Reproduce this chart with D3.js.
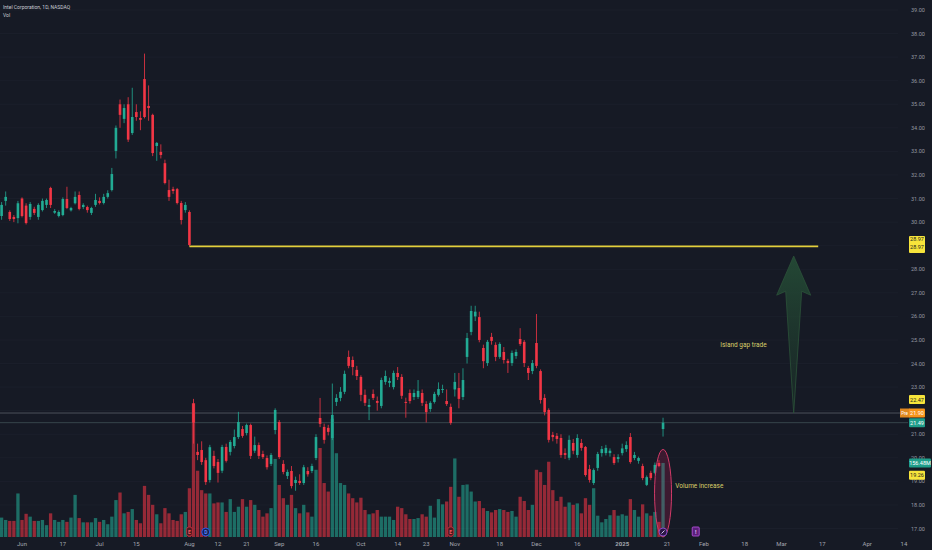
<!DOCTYPE html>
<html>
<head>
<meta charset="utf-8">
<script src="https://cdn.jsdelivr.net/npm/d3@7"></script>
<style>
  body { margin: 0; background: #161a25; }
  svg { display: block; font-family: Roboto, "Noto Sans", sans-serif; }
</style>
</head>
<body>
<svg id="chart"></svg>
<script>
// trading calendar
let firstDay = "2024-05-24", lastDay = "2025-04-30";
let holidays = ["2024-05-27", "2024-06-19", "2024-07-04", "2024-09-02", "2024-11-28",
  "2024-12-25", "2025-01-01", "2025-01-09", "2025-01-20", "2025-02-17", "2025-04-18"];

// daily candles [open, high, low, close], first bar = 2024-05-24
let ohlc = [
  [30.26,30.85,30.10,30.73],[30.90,31.30,30.70,31.07],[30.43,30.50,30.05,30.13],[30.22,30.30,30.00,30.13],
  [30.17,30.90,29.95,30.80],[31.00,31.05,30.20,30.26],[30.70,30.80,29.90,29.96],[30.22,30.85,30.10,30.77],
  [30.56,30.65,30.30,30.39],[30.22,30.80,30.10,30.73],[30.51,31.00,30.45,30.90],[30.73,31.00,30.60,30.94],
  [31.45,31.50,30.60,30.73],[30.40,30.55,30.35,30.47],[30.26,30.50,30.20,30.43],[30.30,31.05,30.25,30.98],
  [30.98,31.50,30.55,30.60],[30.50,30.65,30.45,30.60],[30.80,31.30,30.75,31.07],[31.15,31.30,30.50,30.56],
  [30.64,30.80,30.55,30.73],[30.64,30.70,30.40,30.51],[30.39,30.65,30.30,30.60],[30.73,31.20,30.65,30.94],
  [30.90,31.05,30.75,30.81],[30.81,31.20,30.75,31.07],[31.07,31.35,31.00,31.23],[31.36,32.30,31.30,32.04],
  [33.02,34.10,32.70,34.00],[35.00,35.20,34.00,34.55],[34.38,35.00,34.20,34.84],[35.00,35.30,33.40,33.50],
  [33.78,35.70,33.70,34.46],[34.67,35.00,34.30,34.46],[34.42,34.70,33.90,34.34],[36.07,37.15,34.40,34.46],
  [34.93,35.80,34.30,34.84],[34.55,34.60,32.80,32.93],[33.23,33.40,32.60,33.36],[32.98,33.30,32.70,32.85],
  [32.50,32.65,31.60,31.66],[31.36,31.80,30.90,31.07],[31.40,31.50,31.20,31.32],[31.40,31.45,30.75,30.81],
  [30.81,30.90,29.90,30.09],[30.51,30.85,30.40,30.73],[30.43,30.50,28.97,29.03],
  [22.30,22.50,20.60,21.48],[20.25,20.60,19.90,20.12],[20.33,20.70,19.70,19.82],[19.90,20.00,18.85,18.97],
  [19.06,20.55,18.95,20.45],[20.08,20.30,19.55,19.65],[19.82,19.95,18.95,19.36],[19.45,20.55,19.35,20.46],
  [20.46,20.60,19.80,19.87],[20.25,20.75,20.10,20.67],[20.50,21.20,20.40,20.88],[20.88,21.95,20.80,21.52],
  [21.22,21.35,20.85,20.93],[21.05,21.45,20.95,21.39],[21.39,21.45,19.95,20.08],[20.30,20.90,20.20,20.54],
  [20.54,20.65,19.95,20.08],[20.16,20.30,19.95,20.03],[19.99,20.10,19.50,19.60],[19.74,20.20,19.65,20.12],
  [21.18,22.10,21.00,22.03],[21.52,21.60,19.95,20.03],[19.74,19.90,19.30,19.40],[19.23,19.50,19.10,19.40],
  [19.44,19.65,18.70,18.80],[18.93,19.20,18.60,19.06],[19.02,19.30,18.85,18.93],[18.93,19.70,18.85,19.60],
  [19.44,19.60,19.20,19.30],[19.44,19.75,19.35,19.65],[19.99,21.00,19.90,20.88],[21.69,22.54,21.30,21.44],
  [21.31,21.45,20.60,20.76],[21.27,21.40,20.95,21.10],[20.84,23.15,20.75,21.82],[22.37,22.70,22.20,22.54],
  [22.54,23.00,22.40,22.80],[22.80,23.70,22.70,23.56],[24.28,24.55,23.80,23.90],[24.15,24.30,23.50,23.85],
  [23.73,23.90,23.30,23.47],[23.43,23.50,22.40,22.67],[22.67,22.90,22.20,22.33],[22.16,22.50,21.60,22.24],
  [22.71,22.90,22.45,22.54],[22.41,22.60,22.00,22.33],[22.20,23.40,22.10,23.30],[23.22,23.70,23.10,23.47],
  [23.18,23.40,23.00,23.26],[23.00,23.70,22.90,23.60],[23.60,23.85,23.30,23.43],[23.43,23.55,22.50,22.63],
  [22.37,22.55,21.70,22.33],[22.75,22.90,22.30,22.41],[22.58,22.90,22.45,22.75],[22.58,23.30,22.50,22.84],
  [22.75,22.90,22.20,22.33],[22.28,22.40,21.50,21.94],[22.07,22.40,21.95,22.33],[22.37,22.80,22.30,22.71],
  [22.67,23.20,22.60,22.92],[22.88,23.10,22.75,22.92],[22.41,22.90,22.20,22.28],[22.16,22.30,21.40,21.48],
  [22.90,23.60,22.60,23.22],[22.96,23.60,22.10,22.50],[22.58,23.80,22.45,23.30],[24.28,25.30,24.00,25.08],
  [25.34,26.45,25.20,26.23],[26.00,26.45,25.80,26.20],[25.97,26.20,24.90,25.00],[24.66,24.80,23.80,24.10],
  [24.02,25.00,23.90,24.92],[25.13,25.30,24.80,24.96],[24.79,24.90,24.10,24.28],[24.28,24.90,24.20,24.83],
  [24.49,24.70,24.00,24.15],[24.11,24.20,23.60,24.02],[24.02,24.55,23.90,24.45],[24.32,24.60,24.20,24.49],
  [25.04,25.50,24.75,24.83],[24.92,25.00,23.85,24.02],[23.81,23.90,23.30,23.60],[23.68,24.15,23.55,24.02],
  [24.87,26.10,23.80,23.90],[23.68,23.75,22.30,22.45],[22.54,22.70,21.80,21.94],[22.03,22.10,20.65,20.76],
  [20.97,21.10,20.70,20.88],[20.93,21.05,20.60,20.80],[20.84,21.00,20.00,20.12],[20.20,20.40,19.95,20.12],
  [20.00,20.95,19.90,20.76],[20.63,20.80,20.15,20.30],[20.12,21.00,20.00,20.84],[20.63,20.80,20.30,20.42],
  [20.46,20.50,19.20,19.27],[19.52,19.70,18.95,19.06],[18.93,19.55,18.85,19.48],[19.57,20.25,19.45,20.16],
  [20.20,20.50,20.05,20.37],[20.20,20.55,20.10,20.42],[20.20,20.40,20.05,20.30],[20.03,20.15,19.70,19.78],
  [19.95,20.15,19.80,20.03],[20.20,20.60,20.10,20.40],[20.37,20.70,20.25,20.54],[20.88,21.05,19.75,19.82],
  [19.99,20.25,19.90,20.12],[19.87,20.05,19.75,19.99],[19.65,19.75,19.05,19.14],[18.85,19.25,18.80,19.18],
  [19.36,19.45,19.05,19.14],[19.36,19.80,19.30,19.70],[19.78,19.90,19.60,19.65],[21.22,21.70,20.90,21.49]
];

// daily volume, millions
let volumes = [
  41,36,34,34,92,36,49,43,34,34,36,25,50,36,32,36,32,41,89,40,
  31,31,31,40,32,36,27,43,78,94,50,53,59,36,29,108,89,68,48,29,
  61,50,36,34,48,53,103,283,140,99,92,92,71,73,73,53,80,53,64,80,
  64,78,68,57,43,50,61,165,110,82,68,89,61,50,68,52,43,142,188,114,
  96,250,177,114,110,92,82,73,83,57,48,50,57,43,43,43,36,64,61,48,
  38,38,40,48,43,66,41,80,69,75,106,166,85,110,111,96,75,76,61,55,
  52,57,59,57,53,55,43,85,76,57,68,142,137,110,159,99,76,85,64,73,
  68,71,50,82,68,103,45,31,38,46,57,45,48,45,80,57,43,69,50,45,
  53,32,156.48
];

let priceTicks = [17,18,19,20,21,22,23,24,25,26,27,28,29,30,31,32,33,34,35,36,37,38,39];
let tickDates = ["2024-06-03","2024-06-17","2024-07-01","2024-07-15","2024-08-01","2024-08-12",
  "2024-08-21","2024-09-03","2024-09-16","2024-10-01","2024-10-14","2024-10-23","2024-11-01",
  "2024-11-18","2024-12-02","2024-12-16","2025-01-02","2025-01-21","2025-02-03","2025-02-18",
  "2025-03-03","2025-03-17","2025-04-01","2025-04-14"];
let tickLabels = ["Jun","17","Jul","15","Aug","12","21","Sep","16","Oct","14","23","Nov",
  "18","Dec","16","2025","21","Feb","18","Mar","17","Apr","14"];

// events under the bars
let eventDates = ["2024-08-01","2024-08-07","2024-10-31","2025-01-17","2025-01-30"];
let eventKinds = ["earnings","dividend","earnings","news","upcoming"];

// right scale tags
let tagValues = [22.47, 21.90, 21.49, 19.26];
let tagKinds = ["level","pre","last","level"];
let gapLevel = 28.97;

// drawings
let gapLine = {from: "2024-08-01", to: "2025-03-14", price: 28.97};
let arrowLine = {date: "2025-03-06", from: 21.90, to: 28.56, head: 26.90};
let notes = [
  {text: "Island gap trade", date: "2025-02-07", price: 24.70},
  {text: "Volume increase", date: "2025-01-23", price: 18.72}
];
let circled = {date: "2025-01-17", volTop: 185};

// ---------------------------------------------------------------
let width = 932, height = 550;
let svg = d3.select("#chart").attr("width", width).attr("height", height);
svg.append("rect").attr("width", width).attr("height", height).attr("fill", "#161a25");

let fmt = d3.utcFormat("%Y-%m-%d"), parse = d3.utcParse("%Y-%m-%d");
let tradingDays = d3.utcDay.range(parse(firstDay), d3.utcDay.offset(parse(lastDay), 1))
  .filter(function(d){ return d.getUTCDay() % 6 !== 0 && holidays.indexOf(fmt(d)) < 0; })
  .map(fmt);
function idx(s){ return tradingDays.indexOf(s); }

let x = d3.scaleLinear().domain([0, 200]).range([1.6, 818.2]),
    y = d3.scaleLinear().domain([17, 39]).range([528.5, 10]),
    vy = d3.scaleLinear().domain([0, 300]).range([537, 395]);

let up = "#22ab94", down = "#f23645";
let plotRight = 898;

// grid
svg.append("g").selectAll("line").data(priceTicks).join("line")
  .attr("x1", 0).attr("x2", plotRight)
  .attr("y1", function(d){ return y(d); }).attr("y2", function(d){ return y(d); })
  .attr("stroke", "#1b1f2b").attr("stroke-width", 1);

// volume
let vw = 3.3;
svg.append("g").selectAll("rect").data(volumes).join("rect")
  .attr("x", function(d, i){ return x(i) - vw / 2; })
  .attr("y", function(d){ return vy(d); })
  .attr("width", vw)
  .attr("height", function(d){ return vy(0) - vy(d); })
  .attr("fill", function(d, i){ return ohlc[i][3] >= ohlc[i][0] ? up : down; })
  .attr("fill-opacity", 0.58);

// last / pre-market price lines
svg.append("line").attr("x1", 0).attr("x2", 900)
  .attr("y1", y(21.90)).attr("y2", y(21.90))
  .attr("stroke", "#5a5e69").attr("stroke-width", 1).attr("stroke-opacity", 0.8);
svg.append("line").attr("x1", 0).attr("x2", 908)
  .attr("y1", y(21.49)).attr("y2", y(21.49))
  .attr("stroke", "#3b4a50").attr("stroke-width", 1).attr("stroke-opacity", 0.9);

// candles
let bw = 2.6;
let candle = svg.append("g").selectAll("g").data(ohlc).join("g")
  .attr("fill", function(d){ return d[3] >= d[0] ? up : down; })
  .attr("stroke", function(d){ return d[3] >= d[0] ? up : down; });
candle.append("line")
  .attr("x1", function(d, i){ return x(i); }).attr("x2", function(d, i){ return x(i); })
  .attr("y1", function(d){ return y(d[1]); }).attr("y2", function(d){ return y(d[2]); })
  .attr("stroke-width", 0.8);
candle.append("rect")
  .attr("stroke", "none")
  .attr("x", function(d, i){ return x(i) - bw / 2; })
  .attr("y", function(d){ return y(Math.max(d[0], d[3])); })
  .attr("width", bw)
  .attr("height", function(d){ return Math.max(1, Math.abs(y(d[0]) - y(d[3]))); });

// island gap level
svg.append("line")
  .attr("x1", x(idx(gapLine.from))).attr("x2", x(idx(gapLine.to)))
  .attr("y1", y(gapLine.price)).attr("y2", y(gapLine.price))
  .attr("stroke", "#e3cf3c").attr("stroke-width", 1.6);

// arrow
let defs = svg.append("defs");
let grad = defs.append("linearGradient").attr("id", "arrowFill")
  .attr("x1", 0).attr("y1", 0).attr("x2", 0).attr("y2", 1);
grad.append("stop").attr("offset", "0%").attr("stop-color", "#28573a").attr("stop-opacity", 0.75);
grad.append("stop").attr("offset", "100%").attr("stop-color", "#1c3328").attr("stop-opacity", 0.45);
let ax = x(idx(arrowLine.date)), headHalf = 17, shaftHalf = 8;
let arrowPts = [
  [ax, y(arrowLine.to)],
  [ax + headHalf, y(arrowLine.head)],
  [ax + shaftHalf, y(arrowLine.head) - 4],
  [ax, y(arrowLine.from)],
  [ax - shaftHalf, y(arrowLine.head) - 4],
  [ax - headHalf, y(arrowLine.head)]
];
svg.append("polygon")
  .attr("points", arrowPts.map(function(p){ return p.join(","); }).join(" "))
  .attr("fill", "url(#arrowFill)")
  .attr("stroke", "#2b5238").attr("stroke-width", 0.8);

// notes
svg.append("g").selectAll("text").data(notes).join("text")
  .attr("x", function(d){ return x(idx(d.date)); })
  .attr("y", function(d){ return y(d.price); })
  .attr("fill", "#d8cf6a")
  .style("font-size", "6.5px")
  .text(function(d){ return d.text; });

// volume ellipse
let ellX = x(idx(circled.date)), ellTop = vy(circled.volTop), ellBottom = vy(0);
svg.append("ellipse")
  .attr("cx", ellX).attr("cy", (ellTop + ellBottom) / 2)
  .attr("rx", 8.5).attr("ry", (ellBottom - ellTop) / 2)
  .attr("fill", "#e91e63").attr("fill-opacity", 0.18)
  .attr("stroke", "#d23a68").attr("stroke-width", 1);

// event badges
let ev = svg.append("g").selectAll("g").data(eventDates).join("g")
  .attr("transform", function(d){ return "translate(" + x(idx(d)) + ",532)"; });
ev.each(function(d, i){
  let g = d3.select(this), k = eventKinds[i];
  if (k === "earnings") {
    g.append("rect").attr("x", -3).attr("y", -5).attr("width", 6).attr("height", 9).attr("rx", 2.5)
      .attr("fill", "#4a1a20").attr("stroke", "#c9303d").attr("stroke-width", 0.8);
    g.append("text").attr("y", 2).attr("text-anchor", "middle").attr("fill", "#f05a64")
      .style("font-size", "5px").style("font-weight", "bold").text("E");
  } else if (k === "dividend") {
    g.append("circle").attr("r", 4).attr("fill", "#172050").attr("stroke", "#2962ff").attr("stroke-width", 0.9);
    g.append("text").attr("y", 2).attr("text-anchor", "middle").attr("fill", "#5b86ff")
      .style("font-size", "5px").style("font-weight", "bold").text("D");
  } else if (k === "news") {
    g.append("circle").attr("r", 4).attr("fill", "#2b1744").attr("stroke", "#8e4fd6").attr("stroke-width", 0.9);
    g.append("path").attr("d", "M-1.5,1.5 L1.5,-1.5").attr("stroke", "#d7c4f5").attr("stroke-width", 1);
  } else {
    g.append("rect").attr("x", -3.5).attr("y", -5).attr("width", 7).attr("height", 9).attr("rx", 1)
      .attr("fill", "#5a1f7a").attr("stroke", "#b14fd8").attr("stroke-width", 0.9);
    g.append("text").attr("y", 2).attr("text-anchor", "middle").attr("fill", "#e6c9f5")
      .style("font-size", "5.5px").style("font-weight", "bold").text("!");
  }
});

// time axis
svg.append("g").selectAll("text").data(tickDates).join("text")
  .attr("x", function(d){ return x(idx(d)); })
  .attr("y", 545.5)
  .attr("text-anchor", "middle")
  .attr("fill", "#a3a6af")
  .style("font-size", "6px")
  .style("font-weight", function(d, i){ return tickLabels[i] === "2025" ? "bold" : "normal"; })
  .text(function(d, i){ return tickLabels[i]; });

// price axis: labels fully under a tag are hidden, as on the original scale
let tagCenters = tagValues.map(function(v){ return y(v); }).concat([y(gapLevel) - 2]);
svg.append("g").selectAll("text")
  .data(priceTicks.filter(function(p){
    return tagCenters.every(function(c){ return Math.abs(c - y(p)) > 4.5; });
  }))
  .join("text")
  .attr("x", 911).attr("y", function(d){ return y(d) + 2; })
  .attr("fill", "#9598a1")
  .style("font-size", "5.5px")
  .text(function(d){ return d3.format(".2f")(d); });

// price tags
function tag(cy, label, fill, color, w, x0) {
  svg.append("rect").attr("x", x0 || 909).attr("y", cy - 4.5).attr("width", w || 16).attr("height", 9)
    .attr("rx", 1).attr("fill", fill);
  svg.append("text").attr("x", (x0 || 909) + (w || 16) / 2).attr("y", cy + 2)
    .attr("text-anchor", "middle").attr("fill", color)
    .style("font-size", "5.5px").text(label);
}
// double gap tag
let gy = y(gapLevel) - 2;
svg.append("rect").attr("x", 909).attr("y", gy - 8.5).attr("width", 16).attr("height", 17)
  .attr("rx", 1).attr("fill", "#f7e43b");
[gy - 3.5, gy + 5].forEach(function(t){
  svg.append("text").attr("x", 917).attr("y", t).attr("text-anchor", "middle")
    .attr("fill", "#1b1b1b").style("font-size", "5.5px").text(gapLevel.toFixed(2));
});
tagValues.forEach(function(v, i){
  let k = tagKinds[i];
  if (k === "level") tag(y(v), v.toFixed(2), "#f7e43b", "#1b1b1b");
  else if (k === "last") tag(y(v), v.toFixed(2), "#1f9d8a", "#ffffff");
  else {
    svg.append("rect").attr("x", 900).attr("y", y(v) - 4.5).attr("width", 10).attr("height", 9)
      .attr("fill", "#e0881f");
    svg.append("text").attr("x", 904.5).attr("y", y(v) + 2).attr("text-anchor", "middle")
      .attr("fill", "#ffffff").style("font-size", "4.5px").text("Pre");
    tag(y(v), v.toFixed(2), "#f7931a", "#ffffff");
  }
});
let lastVol = volumes[volumes.length - 1];
tag(vy(lastVol), d3.format(".2f")(lastVol) + "M", "#1f9d8a", "#ffffff", 22);

// header
svg.append("text").attr("x", 3).attr("y", 8.5).attr("fill", "#c9ccd4")
  .style("font-size", "5px").text("Intel Corporation, 1D, NASDAQ");
svg.append("text").attr("x", 3).attr("y", 16.5).attr("fill", "#c9ccd4")
  .style("font-size", "5px").text("Vol");
</script>
</body>
</html>
